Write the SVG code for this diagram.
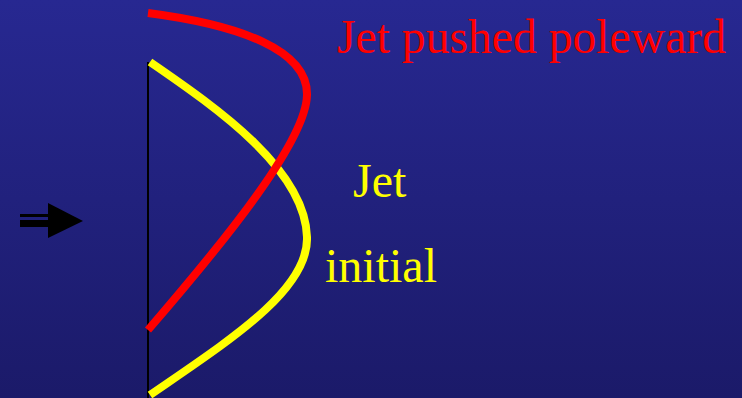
<svg xmlns="http://www.w3.org/2000/svg" width="742" height="398" viewBox="0 0 742 398">
<defs>
<linearGradient id="bg" x1="0" y1="0" x2="0" y2="1">
<stop offset="0" stop-color="#272891"/>
<stop offset="1" stop-color="#1b1a69"/>
</linearGradient>
</defs>
<style>
.curve{fill:none;stroke-width:8}
.lbl{font-family:"Liberation Serif","Times New Roman",serif;font-size:48px}
</style>
<rect width="742" height="398" fill="url(#bg)"/>
<g id="axis">
<line x1="148" y1="62" x2="148" y2="398" stroke="#000" stroke-width="2"/>
</g>
<g id="arrow">
<rect x="20" y="214" width="30" height="3" fill="#000"/>
<rect x="20" y="220" width="30" height="7" fill="#000"/>
<polygon points="48,203 83,221 48,238" fill="#000"/>
</g>
<g id="connectors">
<path id="jet-initial-curve" class="curve" stroke="#ffff00" d="M150,62 C220,110 305,170 307,237 C309,290 230,340 150,395"/>
<path id="jet-poleward-curve" class="curve" stroke="#ff0000" d="M148,13 C240,25 308,50 307,95 C306,140 230,235 148,330"/>
</g>
<g id="label-poleward"><text class="lbl" x="337" y="53" fill="#ff0000" textLength="389" lengthAdjust="spacingAndGlyphs">Jet pushed poleward</text></g>
<g id="label-jet"><text class="lbl" x="353" y="197" fill="#ffff00">Jet</text></g>
<g id="label-initial"><text class="lbl" x="325" y="282" fill="#ffff00">initial</text></g>
</svg>
